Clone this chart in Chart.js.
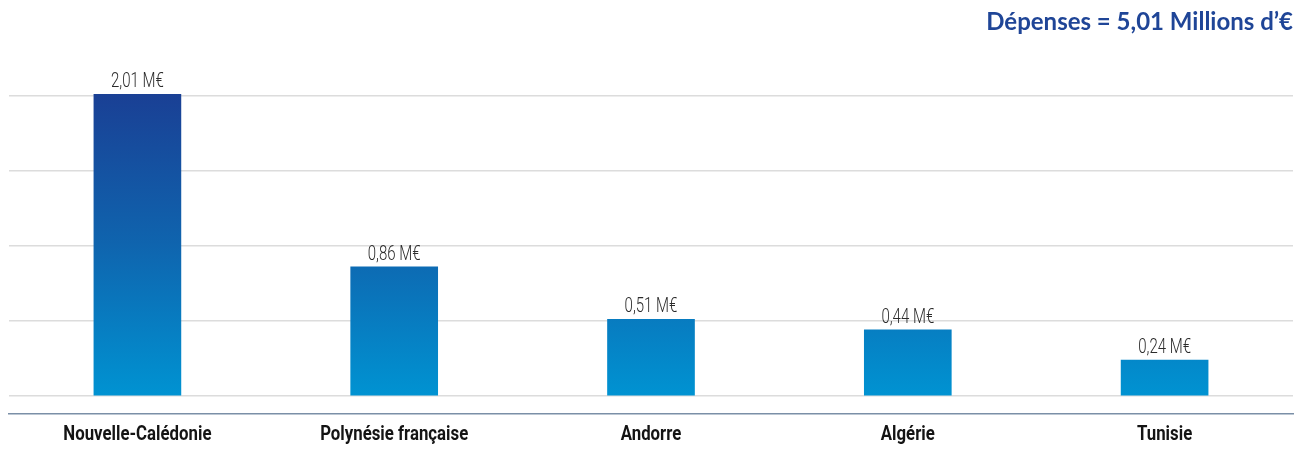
<!DOCTYPE html>
<html>
<head>
<meta charset="utf-8">
<script src="https://cdn.jsdelivr.net/npm/chart.js@4/dist/chart.umd.min.js"></script>
<style>
  html, body { margin: 0; padding: 0; background: #fff; }
  #wrap { width: 1301px; height: 450px; }
</style>
</head>
<body>
<div id="wrap"><canvas id="depensesChart"></canvas></div>
<script>
const countries = ['Nouvelle-Calédonie', 'Polynésie française', 'Andorre', 'Algérie', 'Tunisie'];
const spending = [2.01, 0.86, 0.51, 0.44, 0.24];
const valueLabels = ['2,01 M€', '0,86 M€', '0,51 M€', '0,44 M€', '0,24 M€'];
const titleText = 'Dépenses = 5,01 Millions d’€';

// bar gradient follows the plot height: dark navy at top, light blue at the base
function barGradient(context) {
  const { chart } = context;
  const area = chart.chartArea;
  if (!area) return '#0088c8';
  const g = chart.ctx.createLinearGradient(0, area.top + 40, 0, area.bottom - 18);
  g.addColorStop(0, '#1a3f94');
  g.addColorStop(0.5, '#0f64ae');
  g.addColorStop(1, '#0093d2');
  return g;
}

// no narrow fonts installed, so squeeze the text horizontally
function condensedText(ctx, text, x, y, squeeze) {
  ctx.save();
  ctx.translate(x, y);
  ctx.scale(squeeze, 1);
  ctx.fillText(text, 0, 0);
  ctx.restore();
}

const labelPlugin = {
  id: 'condensedLabels',
  afterDatasetsDraw(chart) {
    const { ctx } = chart;
    const meta = chart.getDatasetMeta(0);
    const xScale = chart.scales.x;
    ctx.save();
    ctx.textAlign = 'center';
    ctx.textBaseline = 'alphabetic';

    // values above the bars
    ctx.font = '300 20px Roboto';
    ctx.fillStyle = '#2b2b2b';
    meta.data.forEach((bar, i) => condensedText(ctx, valueLabels[i], bar.x, bar.y - 7, 0.75));

    // category names under the axis line
    ctx.font = 'bold 20px Roboto';
    ctx.fillStyle = '#141414';
    countries.forEach((name, i) => condensedText(ctx, name, xScale.getPixelForTick(i), 440, 0.84));
    ctx.restore();
  },
};

new Chart(document.getElementById('depensesChart').getContext('2d'), {
  type: 'bar',
  data: {
    labels: countries,
    datasets: [{
      data: spending,
      backgroundColor: barGradient,
      borderWidth: 0,
      barThickness: 87,
    }],
  },
  options: {
    responsive: true,
    maintainAspectRatio: false,
    animation: false,
    layout: { padding: { left: 9, right: 8, top: 0, bottom: 28 } },
    plugins: {
      legend: { display: false },
      tooltip: { enabled: false },
      title: {
        display: true,
        text: titleText,
        align: 'end',
        color: '#1f4597',
        font: { family: 'Lato', weight: 'bold', size: 24 },
        padding: { top: 8, bottom: 14 },
      },
    },
    scales: {
      x: {
        grid: { display: false },
        border: { display: true, color: '#7b8fa7', width: 1.5 },
        ticks: { display: false },
      },
      y: {
        min: -0.12,
        max: 2.3,
        afterBuildTicks(scale) {
          scale.ticks = scale.ticks.filter(t => t.value >= 0 && t.value <= 2.0001);
        },
        ticks: { display: false, stepSize: 0.5 },
        border: { display: false },
        grid: { color: '#dcdcdc', lineWidth: 1.5, drawTicks: false, tickLength: 0 },
      },
    },
  },
  plugins: [labelPlugin],
});
</script>
</body>
</html>
